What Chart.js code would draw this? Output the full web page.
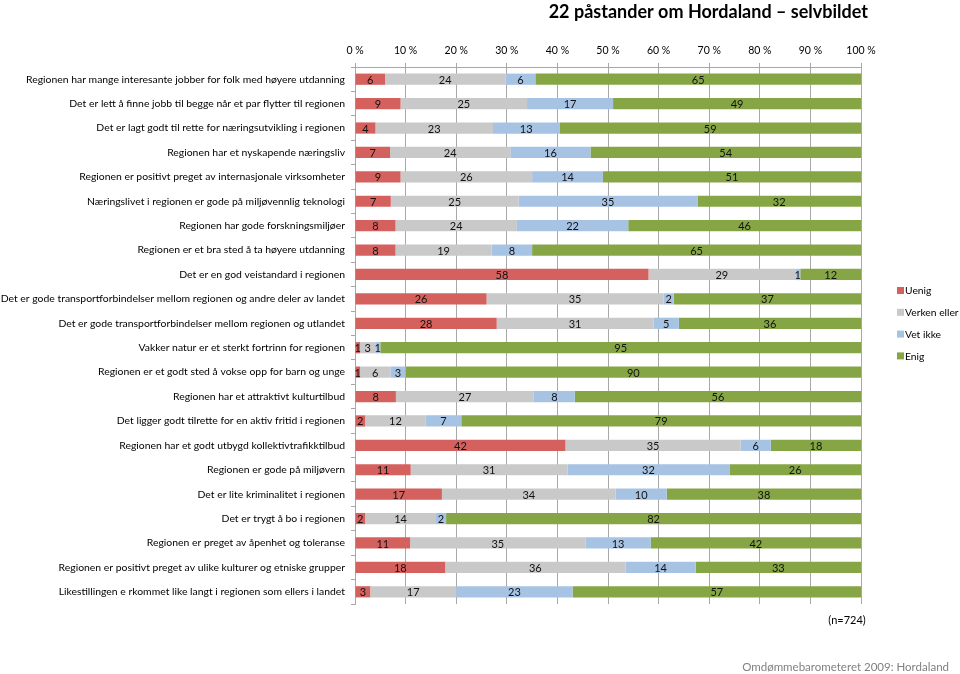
<!DOCTYPE html>
<html>
<head>
<meta charset="utf-8">
<script src="https://cdn.jsdelivr.net/npm/chart.js@4"></script>
<style>
  html, body { margin: 0; padding: 0; background: #fff; }
  #wrap { width: 960px; height: 674px; position: relative; }
</style>
</head>
<body>
<div id="wrap"><canvas id="chart" width="960" height="674"></canvas></div>
<script>
const statements = [
    'Regionen har mange interesante jobber for folk med høyere utdanning',
    'Det er lett å finne jobb til begge når et par flytter til regionen',
    'Det er lagt godt til rette for næringsutvikling i regionen',
    'Regionen har et nyskapende næringsliv',
    'Regionen er positivt preget av internasjonale virksomheter',
    'Næringslivet i regionen er gode på miljøvennlig teknologi',
    'Regionen har gode forskningsmiljøer',
    'Regionen er et bra sted å ta høyere utdanning',
    'Det er en god veistandard i regionen',
    'Det er gode transportforbindelser mellom regionen og andre deler av landet',
    'Det er gode transportforbindelser mellom regionen og utlandet',
    'Vakker natur er et sterkt fortrinn for regionen',
    'Regionen er et godt sted å vokse opp for barn og unge',
    'Regionen har et attraktivt kulturtilbud',
    'Det ligger godt tilrette for en aktiv fritid i regionen',
    'Regionen har et godt utbygd kollektivtrafikktilbud',
    'Regionen er gode på miljøvern',
    'Det er lite kriminalitet i regionen',
    'Det er trygt å bo i regionen',
    'Regionen er preget av åpenhet og toleranse',
    'Regionen er positivt preget av ulike kulturer og etniske grupper',
    'Likestillingen e rkommet like langt i regionen som ellers i landet'
]

const uenig  = [6, 9, 4, 7, 9, 7, 8, 8, 58, 26, 28, 1, 1, 8, 2, 42, 11, 17, 2, 11, 18, 3]
const verken = [24, 25, 23, 24, 26, 25, 24, 19, 29, 35, 31, 3, 6, 27, 12, 35, 31, 34, 14, 35, 36, 17]
const vetIkke = [6, 17, 13, 16, 14, 35, 22, 8, 1, 2, 5, 1, 3, 8, 7, 6, 32, 10, 2, 13, 14, 23]
const enig   = [65, 49, 59, 54, 51, 32, 46, 65, 12, 37, 36, 95, 90, 56, 79, 18, 26, 38, 82, 42, 33, 57]

const seriesNames = ['Uenig', 'Verken eller', 'Vet ikke', 'Enig']
const xTicks = [0, 10, 20, 30, 40, 50, 60, 70, 80, 90, 100]

const title = '22 påstander om Hordaland – selvbildet'
const note = '(n=724)'
const source = 'Omdømmebarometeret 2009: Hordaland'

const FONT = 'Lato, "Open Sans", sans-serif'
const colors = ['#d4615e', '#c9c9c9', '#a7c3e3', '#86a646']

// 100 % stacked: each row is scaled to its own total
const raw = [uenig, verken, vetIkke, enig]
const totals = statements.map((s, i) => raw.reduce((sum, arr) => sum + arr[i], 0))
const share = arr => arr.map((v, i) => v / totals[i] * 100)

const valueLabels = {
    id: 'valueLabels',
    afterDatasetsDraw(chart) {
        const ctx = chart.ctx
        ctx.save()
        ctx.font = '11px ' + FONT
        ctx.fillStyle = '#111'
        ctx.textAlign = 'center'
        ctx.textBaseline = 'middle'
        chart.data.datasets.forEach((ds, di) => {
            chart.getDatasetMeta(di).data.forEach((bar, i) => {
                const x = (bar.x + bar.base) / 2
                ctx.fillText(String(ds.raw[i]), x, bar.y + 1)
            })
        })
        ctx.restore()
    }
}

const extras = {
    id: 'extras',
    afterDraw(chart) {
        const ctx = chart.ctx
        ctx.save()
        ctx.fillStyle = '#000'
        ctx.textBaseline = 'middle'
        ctx.textAlign = 'right'
        ctx.font = 'bold 18px ' + FONT
        ctx.fillText(title, 868, 12)

        // legend
        ctx.textAlign = 'left'
        ctx.font = '10.3px ' + FONT
        chart.data.datasets.forEach((ds, i) => {
            const y = 291 + i * 21.8
            ctx.fillStyle = ds.backgroundColor
            ctx.fillRect(897, y - 4, 7, 7)
            ctx.fillStyle = '#000'
            ctx.fillText(ds.label, 905, y)
        })

        ctx.font = '11px ' + FONT
        ctx.textAlign = 'center'
        ctx.fillText(note, 847, 620)
        ctx.fillStyle = '#808080'
        ctx.font = '11.5px ' + FONT
        ctx.textAlign = 'right'
        ctx.fillText(source, 949, 667)
        ctx.restore()
    }
}

new Chart(document.getElementById('chart'), {
    type: 'bar',
    data: {
        labels: statements,
        datasets: raw.map((arr, i) => ({
            label: seriesNames[i],
            data: share(arr),
            raw: arr,
            backgroundColor: colors[i],
            borderWidth: 0,
            barPercentage: 0.46,
            categoryPercentage: 1
        }))
    },
    options: {
        indexAxis: 'y',
        responsive: false,
        animation: false,
        layout: {padding: {top: 0, right: 99, bottom: 70, left: 0}},
        plugins: {
            legend: {display: false},
            title: {display: false},
            tooltip: {enabled: false}
        },
        scales: {
            x: {
                position: 'top',
                stacked: true,
                min: 0,
                max: 100,
                afterBuildTicks: scale => { scale.ticks = xTicks.map(v => ({value: v})) },
                afterFit: scale => { scale.height = 67 },
                ticks: {
                    color: '#000',
                    font: {family: FONT, size: 10.5},
                    padding: 6,
                    callback: v => v + ' %'
                },
                grid: {color: '#a8a8a8', lineWidth: 1, tickLength: 4},
                border: {color: '#a8a8a8'}
            },
            y: {
                stacked: true,
                afterFit: scale => { scale.width = 355 },
                ticks: {
                    color: '#000',
                    font: {family: FONT, size: 10.4},
                    padding: 6,
                    autoSkip: false
                },
                grid: {drawOnChartArea: false, offset: true, tickLength: 4, color: '#a8a8a8'},
                border: {color: '#a8a8a8'}
            }
        }
    },
    plugins: [valueLabels, extras]
})
</script>
</body>
</html>
